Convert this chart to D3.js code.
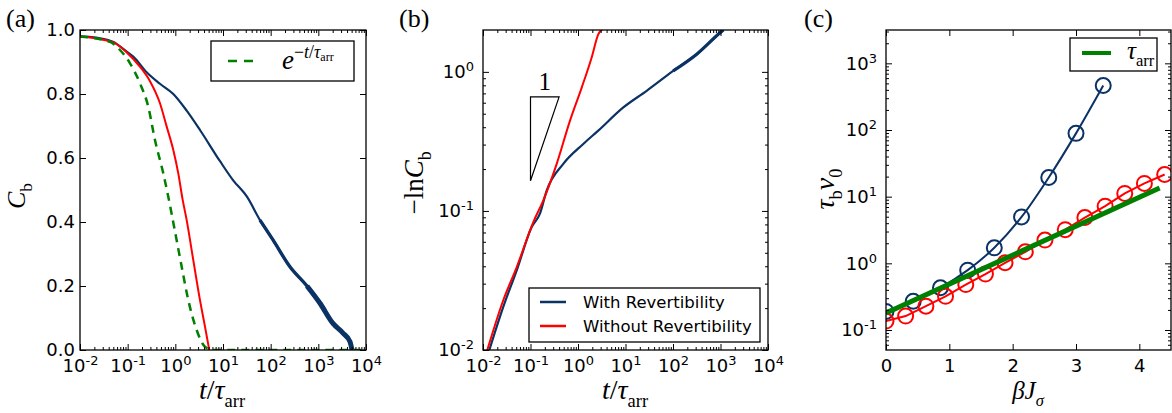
<!DOCTYPE html>
<html>
<head>
<meta charset="utf-8">
<script src="https://cdn.jsdelivr.net/npm/d3@7"></script>
<style>
  body { margin: 0; background: #fff; }
  svg text { font-family: "DejaVu Sans", sans-serif; }
  svg text.math { font-family: "Liberation Serif", serif; }
</style>
</head>
<body>
<svg id="chart" width="1172" height="413"></svg>
<script>
// Panel (a): C_b against t/tau_arr
const aBlueT = [0.01, 0.0263, 0.049, 0.1, 0.131, 0.25, 0.476, 0.906, 1.73, 3.29, 8.65, 16.2, 31.8, 59.7, 112, 254, 578, 1084, 2028, 3289, 4613, 5082];
const aBlueC = [0.98, 0.974, 0.963, 0.93, 0.917, 0.868, 0.832, 0.8, 0.748, 0.6875, 0.59, 0.531, 0.479, 0.406, 0.344, 0.26, 0.2, 0.146, 0.083, 0.053, 0.026, 0.0];
const aRedT = [0.01, 0.049, 0.0955, 0.1816, 0.294, 0.476, 0.659, 0.906, 1.153, 1.426, 1.73, 2.38, 3.29, 4.19, 5.15];
const aRedC = [0.98, 0.962, 0.93, 0.885, 0.84, 0.771, 0.698, 0.625, 0.552, 0.469, 0.406, 0.281, 0.156, 0.073, 0.0];
const aExpT = [0.01, 0.0426, 0.069, 0.112, 0.1816, 0.271, 0.374, 0.559, 0.711, 1.0, 1.36, 1.87, 2.8, 4.19, 6.25, 10000];
const aExpC = [0.98, 0.963, 0.9375, 0.896, 0.833, 0.76, 0.656, 0.552, 0.479, 0.365, 0.26, 0.156, 0.0625, 0.01, 0.0, 0.0];
const aYTicks = [0, 0.2, 0.4, 0.6, 0.8, 1.0];

// Panel (b): -ln C_b against t/tau_arr
const bBlueT = [0.0136, 0.0267, 0.0513, 0.106, 0.158, 0.219, 0.49, 1.29, 2.67, 9.0, 27.9, 101, 316, 977, 1148];
const bBlueY = [0.01, 0.0204, 0.0374, 0.0766, 0.0955, 0.14, 0.218, 0.303, 0.378, 0.555, 0.731, 1.016, 1.34, 1.91, 2.0];
const bRedT = [0.0123, 0.0267, 0.0513, 0.1146, 0.186, 0.356, 0.679, 1.197, 1.94, 2.67, 3.41];
const bRedY = [0.01, 0.0228, 0.0395, 0.0832, 0.119, 0.218, 0.446, 0.771, 1.27, 1.86, 2.05];
const bSlopeT = [0.1, 0.1, 0.4];
const bSlopeY = [0.165, 0.66, 0.66];
const bLegend = ['With Revertibility', 'Without Revertibility'];

// Panel (c): tau_b nu_0 against beta J_sigma
const cBlueX = [0, 0.43, 0.86, 1.29, 1.71, 2.14, 2.57, 3.0, 3.43];
const cBlueY = [0.19, 0.27, 0.43, 0.79, 1.71, 4.96, 19.4, 89, 465];
const cRedX = [0, 0.31, 0.63, 0.94, 1.26, 1.57, 1.88, 2.2, 2.51, 2.83, 3.14, 3.46, 3.77, 4.08, 4.4];
const cRedY = [0.136, 0.162, 0.228, 0.32, 0.48, 0.69, 1.02, 1.49, 2.23, 3.2, 4.86, 7.2, 11.2, 15.8, 21.5];
const cArrX = [0, 4.32];
const cArrY = [0.18, 13.5];
const cXTicks = [0, 1, 2, 3, 4];

const decadesT = [0.01, 0.1, 1, 10, 100, 1000, 10000];

const navy = '#0b3265';
const red = '#ff0000';
const green = '#008000';
const svg = d3.select('#chart');
const zip = (a, b) => a.map((v, i) => [v, b[i]]);

function makePanel(left, right) {
  const w = right - left, h = 320;
  const g = svg.append('g').attr('transform', `translate(${left},30)`);
  const id = 'clip' + Math.round(left);
  g.append('clipPath').attr('id', id).append('rect').attr('width', w).attr('height', h);
  const plot = g.append('g').attr('clip-path', `url(#${id})`);
  return {g, plot, w, h};
}

function minorLog(domain) {
  const out = [];
  const lo = Math.floor(Math.log10(domain[0])), hi = Math.ceil(Math.log10(domain[1]));
  for (let e = lo; e < hi; e++) {
    for (let k = 2; k <= 9; k++) {
      const v = k * Math.pow(10, e);
      if (v > domain[0] * 1.0001 && v < domain[1] * 0.9999) out.push(v);
    }
  }
  return out;
}

function powLabel(sel) {
  sel.each(function(d) {
    const t = d3.select(this).text('10');
    t.append('tspan').attr('dy', -7).attr('font-size', 13).text(Math.round(Math.log10(d)));
  });
}

function put(g, axis, tx, ty) {
  const a = g.append('g').attr('transform', `translate(${tx},${ty})`).call(axis);
  a.select('.domain').remove();
  a.attr('font-size', 18).attr('font-family', null);
  a.selectAll('line').attr('stroke', '#000').attr('stroke-width', 1);
  return a;
}

// ticks on all four sides, pointing inward
function drawAxes(p, x, y, o) {
  const {g, w, h} = p;
  const bx = put(g, d3.axisBottom(x).tickValues(o.xMajor).tickSize(-6).tickPadding(9).tickFormat(o.xFmt || (() => '')), 0, h);
  put(g, d3.axisTop(x).tickValues(o.xMajor).tickSize(-6).tickFormat(''), 0, 0);
  if (o.xMinor) {
    put(g, d3.axisBottom(x).tickValues(o.xMinor).tickSize(-3).tickFormat(''), 0, h);
    put(g, d3.axisTop(x).tickValues(o.xMinor).tickSize(-3).tickFormat(''), 0, 0);
  }
  if (o.xLog) bx.selectAll('text').call(powLabel);

  const ly = put(g, d3.axisLeft(y).tickValues(o.yMajor).tickSize(-6).tickPadding(o.yPad).tickFormat(o.yFmt || (() => '')), 0, 0);
  put(g, d3.axisRight(y).tickValues(o.yMajor).tickSize(-6).tickFormat(''), w, 0);
  if (o.yMinor) {
    put(g, d3.axisLeft(y).tickValues(o.yMinor).tickSize(-3).tickFormat(''), 0, 0);
    put(g, d3.axisRight(y).tickValues(o.yMinor).tickSize(-3).tickFormat(''), w, 0);
  }
  if (o.yLog) ly.selectAll('text').call(powLabel);

  g.append('rect').attr('width', w).attr('height', h)
    .attr('fill', 'none').attr('stroke', '#000').attr('stroke-width', 1.3);
}

// serif math-like text built from parts
function math(sel, parts, size) {
  const t = sel.append('text').attr('class', 'math').attr('font-size', size);
  let shift = 0;
  parts.forEach(p => {
    const target = p.sub ? size * 0.28 : p.sup ? -size * 0.42 : 0;
    t.append('tspan')
      .attr('dy', target - shift)
      .attr('font-size', p.sub || p.sup ? size * 0.66 : size)
      .attr('font-style', p.i ? 'italic' : 'normal')
      .text(p.t);
    shift = target;
  });
  return t;
}

const tauArr = [{t: 't', i: true}, {t: '/'}, {t: 'τ', i: true}, {t: 'arr', sub: true}];

// ---------- panel (a)
{
  const p = makePanel(80, 366);
  const x = d3.scaleLog().domain([0.01, 10000]).range([0, p.w]);
  const y = d3.scaleLinear().domain([0, 1]).range([p.h, 0]);
  const line = d3.line().x(d => x(d[0])).y(d => y(d[1])).curve(d3.curveMonotoneX);

  const blue = zip(aBlueT, aBlueC);
  p.plot.append('path').datum(blue).attr('d', line)
    .attr('fill', 'none').attr('stroke', navy).attr('stroke-width', 2.2);
  p.plot.append('path').datum(blue.filter(d => d[0] >= 59)).attr('d', line)
    .attr('fill', 'none').attr('stroke', navy).attr('stroke-width', 3.4);
  p.plot.append('path').datum(blue.filter(d => d[0] >= 500)).attr('d', line)
    .attr('fill', 'none').attr('stroke', navy).attr('stroke-width', 5);
  p.plot.append('path').datum(zip(aRedT, aRedC)).attr('d', line)
    .attr('fill', 'none').attr('stroke', red).attr('stroke-width', 2);
  p.plot.append('path').datum(zip(aExpT, aExpC)).attr('d', line)
    .attr('fill', 'none').attr('stroke', green).attr('stroke-width', 2.5).attr('stroke-dasharray', '8,6');

  drawAxes(p, x, y, {
    xMajor: decadesT, xMinor: minorLog(x.domain()), xLog: true,
    yMajor: aYTicks, yFmt: d3.format('.1f'), yPad: 5
  });

  // legend
  const lg = p.g.append('g').attr('transform', 'translate(131,11)');
  lg.append('rect').attr('width', 143).attr('height', 40)
    .attr('fill', '#fff').attr('stroke', '#000').attr('stroke-width', 1.3);
  lg.append('line').attr('x1', 17).attr('x2', 45).attr('y1', 20).attr('y2', 20)
    .attr('stroke', green).attr('stroke-width', 2.5).attr('stroke-dasharray', '9,7');
  math(lg, [{t: 'e', i: true}, {t: '−', sup: true}, {t: 't', i: true, sup: true}, {t: '/', sup: true},
    {t: 'τ', i: true, sup: true}], 27).attr('x', 71).attr('y', 28)
    .append('tspan').attr('dy', 3).attr('font-size', 12).text('arr');

  math(svg, tauArr, 28).attr('x', 222).attr('y', 399).attr('text-anchor', 'middle');
  math(svg, [{t: 'C', i: true}, {t: 'b', sub: true}], 26)
    .attr('transform', 'translate(25,196) rotate(-90)').attr('text-anchor', 'middle');
  svg.append('text').attr('class', 'math').attr('x', 6).attr('y', 27).attr('font-size', 26).text('(a)');
}

// ---------- panel (b)
{
  const p = makePanel(483, 768);
  const x = d3.scaleLog().domain([0.01, 10000]).range([0, p.w]);
  const y = d3.scaleLog().domain([0.01, 2]).range([p.h, 0]);
  const line = d3.line().x(d => x(d[0])).y(d => y(d[1])).curve(d3.curveMonotoneX);

  p.plot.append('path').datum(zip(bBlueT, bBlueY)).attr('d', line)
    .attr('fill', 'none').attr('stroke', navy).attr('stroke-width', 2.2);
  p.plot.append('path').datum(zip(bBlueT, bBlueY).filter(d => d[0] >= 100)).attr('d', line)
    .attr('fill', 'none').attr('stroke', navy).attr('stroke-width', 3.2);
  p.plot.append('path').datum(zip(bRedT, bRedY)).attr('d', line)
    .attr('fill', 'none').attr('stroke', red).attr('stroke-width', 2);

  // slope-one triangle
  const tri = zip(bSlopeT, bSlopeY);
  p.plot.append('path').attr('d', d3.line().x(d => x(d[0])).y(d => y(d[1]))(tri) + 'Z')
    .attr('fill', 'none').attr('stroke', '#000').attr('stroke-width', 1.2);
  p.g.append('text').attr('class', 'math').attr('font-size', 25).attr('text-anchor', 'middle')
    .attr('x', (x(0.1) + x(0.4)) / 2).attr('y', y(0.66) - 7).text('1');

  drawAxes(p, x, y, {
    xMajor: decadesT, xMinor: minorLog(x.domain()), xLog: true,
    yMajor: [0.01, 0.1, 1], yMinor: minorLog(y.domain()), yLog: true, yPad: 9
  });

  const lg = p.g.append('g').attr('transform', 'translate(46,258)');
  lg.append('rect').attr('width', 231).attr('height', 54)
    .attr('fill', '#fff').attr('stroke', '#000').attr('stroke-width', 1.3);
  [navy, red].forEach((c, i) => {
    const yy = 14 + i * 24;
    lg.append('line').attr('x1', 11).attr('x2', 37).attr('y1', yy).attr('y2', yy)
      .attr('stroke', c).attr('stroke-width', 2.5);
    lg.append('text').attr('x', 54).attr('y', yy + 6).attr('font-size', 16.5).text(bLegend[i]);
  });

  math(svg, tauArr, 28).attr('x', 625).attr('y', 399).attr('text-anchor', 'middle');
  math(svg, [{t: '−ln'}, {t: 'C', i: true}, {t: 'b', sub: true}], 27)
    .attr('transform', 'translate(423,183) rotate(-90)').attr('text-anchor', 'middle');
  svg.append('text').attr('class', 'math').attr('x', 399).attr('y', 27).attr('font-size', 26).text('(b)');
}

// ---------- panel (c)
{
  const p = makePanel(886, 1171);
  const x = d3.scaleLinear().domain([0, 4.5]).range([0, p.w]);
  const y = d3.scaleLog().domain([Math.pow(10, -1.3), Math.pow(10, 3.5)]).range([p.h, 0]);
  const curve = d3.line().x(d => x(d[0])).y(d => y(d[1])).curve(d3.curveMonotoneX);
  const line = d3.line().x(d => x(d[0])).y(d => y(d[1]));

  const blue = zip(cBlueX, cBlueY), reds = zip(cRedX, cRedY);
  p.plot.append('path').datum(blue).attr('d', curve)
    .attr('fill', 'none').attr('stroke', navy).attr('stroke-width', 2);
  p.plot.selectAll('circle.b').data(blue).join('circle').attr('class', 'b')
    .attr('cx', d => x(d[0])).attr('cy', d => y(d[1])).attr('r', 7.5)
    .attr('fill', 'none').attr('stroke', navy).attr('stroke-width', 2);
  p.plot.append('path').datum(reds).attr('d', line)
    .attr('fill', 'none').attr('stroke', red).attr('stroke-width', 2);
  p.plot.selectAll('circle.r').data(reds).join('circle').attr('class', 'r')
    .attr('cx', d => x(d[0])).attr('cy', d => y(d[1])).attr('r', 7.5)
    .attr('fill', 'none').attr('stroke', red).attr('stroke-width', 2);
  p.plot.append('path').datum(zip(cArrX, cArrY)).attr('d', line)
    .attr('fill', 'none').attr('stroke', green).attr('stroke-width', 5);

  drawAxes(p, x, y, {
    xMajor: cXTicks, xFmt: d3.format('d'),
    yMajor: [0.1, 1, 10, 100, 1000], yMinor: minorLog(y.domain()), yLog: true, yPad: 9
  });

  const lg = p.g.append('g').attr('transform', 'translate(184,8)');
  lg.append('rect').attr('width', 87).attr('height', 33)
    .attr('fill', '#fff').attr('stroke', '#000').attr('stroke-width', 1.3);
  lg.append('line').attr('x1', 12).attr('x2', 41).attr('y1', 15).attr('y2', 15)
    .attr('stroke', green).attr('stroke-width', 4);
  math(lg, [{t: 'τ', i: true}, {t: 'arr', sub: true}], 25).attr('x', 57).attr('y', 21);

  math(svg, [{t: 'β', i: true}, {t: 'J', i: true}, {t: 'σ', i: true, sub: true}], 25)
    .attr('x', 1028).attr('y', 399).attr('text-anchor', 'middle');
  math(svg, [{t: 'τ', i: true}, {t: 'b', sub: true}, {t: 'ν', i: true}, {t: '0', sub: true}], 28)
    .attr('transform', 'translate(834,189) rotate(-90)').attr('text-anchor', 'middle');
  svg.append('text').attr('class', 'math').attr('x', 804).attr('y', 27).attr('font-size', 26).text('(c)');
}
</script>
</body>
</html>
